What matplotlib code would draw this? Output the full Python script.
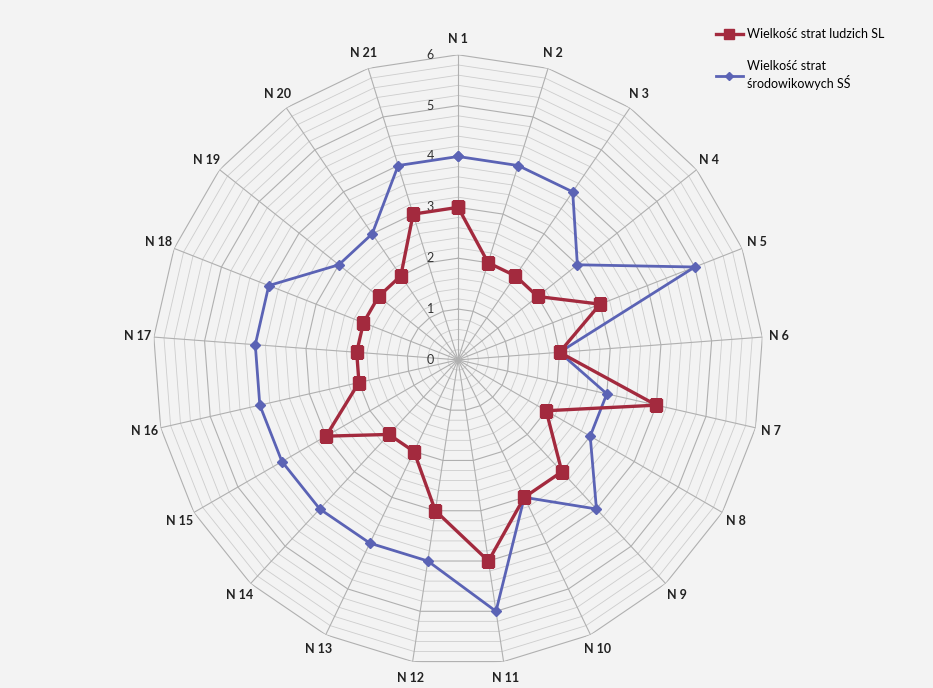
import numpy as np
import matplotlib
matplotlib.use("Agg")
import matplotlib.pyplot as plt
from matplotlib.lines import Line2D

plt.rcParams['font.family'] = ['Lato', 'DejaVu Sans']

categories = ["N 1", "N 2", "N 3", "N 4", "N 5", "N 6", "N 7", "N 8", "N 9", "N 10",
              "N 11", "N 12", "N 13", "N 14", "N 15", "N 16", "N 17", "N 18", "N 19",
              "N 20", "N 21"]
straty_ludzkie = [3, 2, 2, 2, 3, 2, 4, 2, 3, 3, 4, 3, 2, 2, 3, 2, 2, 2, 2, 2, 3]
straty_srodowiskowe = [4, 4, 4, 3, 5, 2, 3, 3, 4, 3, 5, 4, 4, 4, 4, 4, 4, 4, 3, 3, 4]
radial_ticks = [0, 1, 2, 3, 4, 5, 6]
label_sl = "Wielkość strat ludzich SL"
label_ss = "Wielkość strat\nśrodowikowych SŚ"

RED = "#a32a3e"
BLUE = "#5b63b5"
GRID = "#b0b0b0"
GRID_MINOR = "#cdcdcd"

n = len(categories)
angles = np.linspace(0, 2 * np.pi, n, endpoint=False)
closed = np.append(angles, angles[0])

fig = plt.figure(figsize=(9.33, 6.88), dpi=100, facecolor="#f3f3f3")
ax = fig.add_axes([0.164, 0.0334, 0.654, 0.887], projection="polar")
ax.set_theta_zero_location("N")
ax.set_theta_direction(-1)
ax.set_ylim(0, 6)
ax.set_facecolor("none")
ax.grid(False)
ax.spines["polar"].set_visible(False)
ax.set_xticks([])
ax.set_yticks([])

# polygonal rings: minor every 0.2, major every unit
for lvl in np.arange(0.2, 6.001, 0.2):
    major = abs(lvl - round(lvl)) < 1e-6
    ax.plot(closed, np.full(closed.shape, lvl),
            color=GRID if major else GRID_MINOR,
            lw=0.8 if major else 0.6, zorder=1)
# spokes
for a in angles:
    ax.plot([a, a], [0, 6], color=GRID, lw=0.8, zorder=1)

# radial tick labels along the first spoke
for t in radial_ticks:
    ax.annotate(str(t), xy=(0, t), xytext=(-20, 0), textcoords="offset points",
                ha="center", va="center", fontsize=9, color="#333333")

# category labels
for a, lab in zip(angles, categories):
    ax.text(a, 6.32, lab, ha="center", va="center", fontsize=9,
            fontweight="bold", color="#222222")

# series
ax.plot(closed, np.append(straty_srodowiskowe, straty_srodowiskowe[0]),
        color=BLUE, lw=2, marker="D", markersize=5, zorder=3)
ax.plot(closed, np.append(straty_ludzkie, straty_ludzkie[0]),
        color=RED, lw=2.4, marker="s", markersize=8, zorder=4)

handles = [
    Line2D([], [], color=RED, lw=2.4, marker="s", markersize=7),
    Line2D([], [], color=BLUE, lw=2, marker="D", markersize=4),
]
fig.legend(handles, [label_sl, label_ss], loc="upper left",
           bbox_to_anchor=(0.755, 0.975), frameon=False, fontsize=9,
           handlelength=2.2, handletextpad=0.3, labelspacing=1.6)

fig.savefig("out.png", dpi=100, facecolor=fig.get_facecolor())
